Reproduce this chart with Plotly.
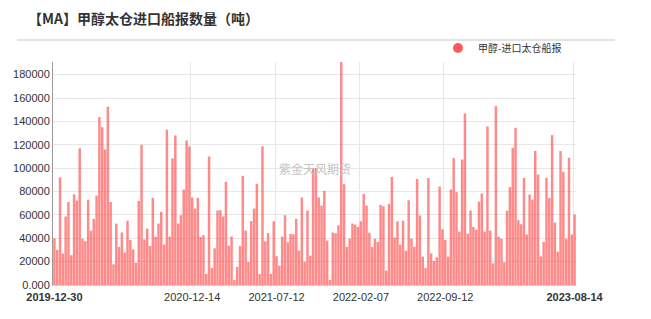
import pandas as pd
import plotly.graph_objects as go

# weekly report dates (Mondays); a few holiday weeks are absent in the source
all_weeks = pd.date_range("2019-12-30", "2023-08-14", freq="7D")
missing_weeks = ["2020-01-27", "2022-05-02", "2022-10-03", "2023-01-23"]
dates = [d.strftime("%Y-%m-%d") for d in all_weeks if d.strftime("%Y-%m-%d") not in missing_weeks]

values = [
    40000, 30000, 92000, 27000, 58600, 71000, 25500, 77500, 72300, 117000,
    39500, 37500, 73000, 46500, 56500, 76500, 143700, 135000, 116000, 152500,
    71000, 17700, 52500, 32500, 45000, 27700, 55000, 38500, 30500, 19000,
    72000, 120000, 39000, 48300, 33400, 74600, 41400, 52600, 62600, 34600,
    132900, 41400, 108300, 128000, 52600, 59700, 81700, 123700, 118600, 74900,
    65400, 74600, 41100, 42600, 9400, 110000, 14600, 31400, 63700, 64000,
    58600, 88300, 33700, 41400, 4200, 15500, 33400, 93400, 46500, 19700,
    54600, 65400, 86600, 9300, 118600, 37400, 44500, 9500, 54500, 24600,
    16600, 41400, 59700, 36600, 43700, 43400, 56600, 29400, 74900, 20000,
    63700, 25100, 100000, 100000, 74900, 68000, 80600, 38000, 4400, 44900,
    44300, 51100, 190800, 86300, 32600, 39700, 52600, 51700, 49700, 54600,
    78000, 68000, 44800, 32500, 39600, 36800, 68500, 67400, 12300, 69400,
    92500, 40600, 54500, 34500, 55000, 29300, 72500, 39600, 32500, 90800,
    59500, 24300, 14600, 91500, 27100, 20600, 23700, 84300, 47700, 38600,
    24300, 81700, 108600, 79400, 45700, 107400, 146900, 44000, 63700, 49700,
    47400, 71400, 78300, 45700, 135700, 46500, 18500, 153000, 41300, 39500,
    19500, 63600, 83800, 117400, 134500, 55400, 52000, 91600, 43200, 77400,
    73000, 114700, 94500, 24500, 36800, 91700, 74600, 128200, 53400, 28500,
    114600, 96900, 39600, 108900, 43200, 60200,
]

series_name = "甲醇-进口太仓船报"
title_text = "【MA】甲醇太仓进口船报数量（吨）"
watermark = "紫金天风期货"

x_tick_vals = ["2019-12-30", "2020-12-14", "2021-07-12", "2022-02-07", "2022-09-12", "2023-08-14"]
x_tick_text = [
    "<b>2019-12-30</b>", "2020-12-14", "2021-07-12", "2022-02-07", "2022-09-12", "<b>2023-08-14</b>",
]
y_tick_vals = [0, 20000, 40000, 60000, 80000, 100000, 120000, 140000, 160000, 180000]
y_tick_text = ["0.000", "20000", "40000", "60000", "80000", "100000", "120000", "140000", "160000", "180000"]

fig = go.Figure()
fig.add_trace(go.Bar(
    x=dates, y=values, name=series_name, showlegend=False,
    marker=dict(color="rgba(255,60,60,0.6)", line=dict(width=0)),
))
fig.add_trace(go.Scatter(
    x=[None], y=[None], mode="markers", name=series_name,
    marker=dict(color="#ff5a5a", size=10, symbol="circle"),
))

W, H = 651, 319
L, R, T, B = 53, 75, 62, 34
pw, ph = W - L - R, H - T - B

fig.update_layout(
    width=W, height=H,
    margin=dict(l=L, r=R, t=T, b=B),
    paper_bgcolor="white", plot_bgcolor="white",
    bargap=0.12,
    font=dict(family="Liberation Sans, Arial, sans-serif", size=11, color="#333"),
    title=dict(
        text=title_text, x=28 / W, xanchor="left", y=1 - 19 / H, yanchor="middle",
        font=dict(family="Noto Sans CJK SC", size=14, color="#333", weight="bold"),
    ),
    legend=dict(
        x=(438 - L) / pw, xanchor="left", y=1 + (T - 48) / ph, yanchor="middle",
        orientation="h", bgcolor="rgba(0,0,0,0)",
        font=dict(family="Noto Sans CJK SC", size=10, color="#333"),
        itemwidth=30,
    ),
    xaxis=dict(
        type="category", tickmode="array", tickvals=x_tick_vals, ticktext=x_tick_text,
        tickson="boundaries", ticks="", showgrid=True, gridcolor="#e8e8e8", gridwidth=1,
        showline=True, linecolor="#cfcfcf", tickangle=0, ticklabelstandoff=2,
        tickfont=dict(family="Liberation Sans, Arial, sans-serif", size=11, color="#333"),
        fixedrange=True,
    ),
    yaxis=dict(
        range=[0, 190800], tickmode="array", tickvals=y_tick_vals, ticktext=y_tick_text,
        showgrid=True, gridcolor="#e8e8e8", gridwidth=1, zeroline=False,
        showline=True, linecolor="#999", ticks="",
        tickfont=dict(family="Liberation Sans, Arial, sans-serif", size=11, color="#333"),
        fixedrange=True,
    ),
    shapes=[dict(
        type="line", xref="paper", yref="paper",
        x0=(17 - L) / pw, x1=(615 - L) / pw, y0=1 + (T - 40) / ph, y1=1 + (T - 40) / ph,
        line=dict(color="#c8c8c8", width=1),
    )],
    annotations=[dict(
        text=watermark, xref="paper", yref="paper",
        x=(315 - L) / pw, y=(285 - 168) / ph, showarrow=False,
        font=dict(family="Noto Sans CJK SC", size=12, color="#c4c4c4"),
    )],
)

fig.write_html("out.html")
